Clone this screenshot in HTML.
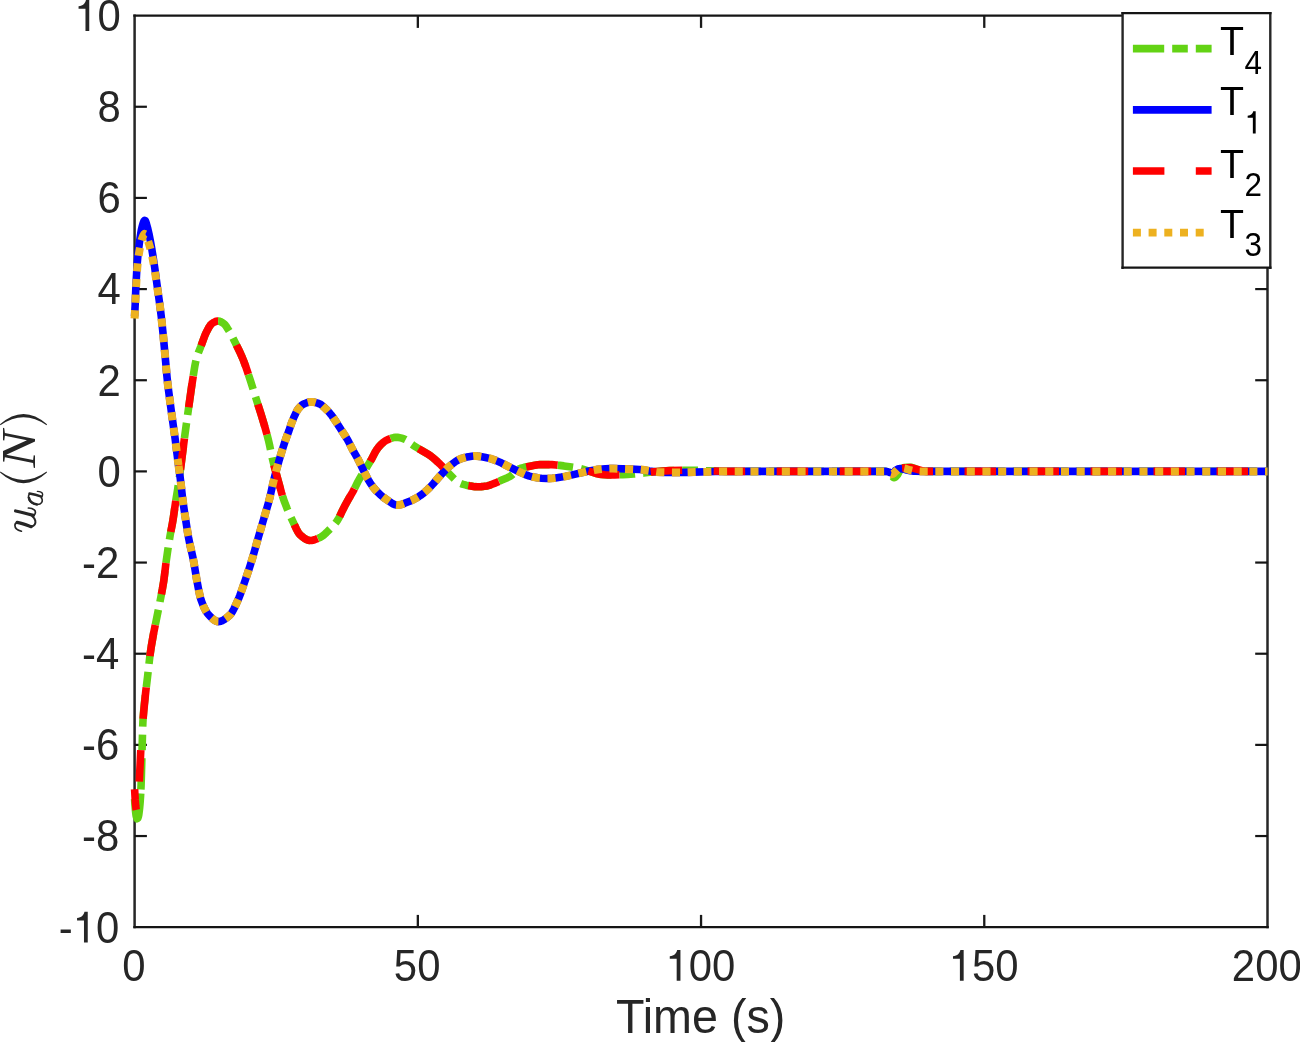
<!DOCTYPE html>
<html><head><meta charset="utf-8"><style>html,body{margin:0;padding:0;background:#fff;}svg{display:block;}text{-webkit-font-smoothing:antialiased;}.gs{filter:grayscale(1);}</style></head><body>
<svg width="1300" height="1042" viewBox="0 0 1300 1042">
<rect x="0" y="0" width="1300" height="1042" fill="#fff"/>
<g shape-rendering="auto">
<line x1="134.6" y1="14.5" x2="134.6" y2="928.3000000000001" stroke="#262626" stroke-width="2.5"/>
<line x1="1267.5" y1="14.5" x2="1267.5" y2="928.3000000000001" stroke="#262626" stroke-width="2.5"/>
<line x1="133.35" y1="15.6" x2="1268.75" y2="15.6" stroke="#151515" stroke-width="2.2"/>
<line x1="133.35" y1="927.2" x2="1268.75" y2="927.2" stroke="#151515" stroke-width="2.2"/>
<line x1="417.83" y1="927.2" x2="417.83" y2="914.9000000000001" stroke="#1a1a1a" stroke-width="2.3"/>
<line x1="417.83" y1="15.6" x2="417.83" y2="27.9" stroke="#1a1a1a" stroke-width="2.3"/>
<line x1="701.05" y1="927.2" x2="701.05" y2="914.9000000000001" stroke="#1a1a1a" stroke-width="2.3"/>
<line x1="701.05" y1="15.6" x2="701.05" y2="27.9" stroke="#1a1a1a" stroke-width="2.3"/>
<line x1="984.27" y1="927.2" x2="984.27" y2="914.9000000000001" stroke="#1a1a1a" stroke-width="2.3"/>
<line x1="984.27" y1="15.6" x2="984.27" y2="27.9" stroke="#1a1a1a" stroke-width="2.3"/>
<line x1="134.6" y1="836.04" x2="146.9" y2="836.04" stroke="#151515" stroke-width="2.2"/>
<line x1="1267.5" y1="836.04" x2="1255.2" y2="836.04" stroke="#151515" stroke-width="2.2"/>
<line x1="134.6" y1="744.88" x2="146.9" y2="744.88" stroke="#151515" stroke-width="2.2"/>
<line x1="1267.5" y1="744.88" x2="1255.2" y2="744.88" stroke="#151515" stroke-width="2.2"/>
<line x1="134.6" y1="653.72" x2="146.9" y2="653.72" stroke="#151515" stroke-width="2.2"/>
<line x1="1267.5" y1="653.72" x2="1255.2" y2="653.72" stroke="#151515" stroke-width="2.2"/>
<line x1="134.6" y1="562.56" x2="146.9" y2="562.56" stroke="#151515" stroke-width="2.2"/>
<line x1="1267.5" y1="562.56" x2="1255.2" y2="562.56" stroke="#151515" stroke-width="2.2"/>
<line x1="134.6" y1="471.40" x2="146.9" y2="471.40" stroke="#151515" stroke-width="2.2"/>
<line x1="1267.5" y1="471.40" x2="1255.2" y2="471.40" stroke="#151515" stroke-width="2.2"/>
<line x1="134.6" y1="380.24" x2="146.9" y2="380.24" stroke="#151515" stroke-width="2.2"/>
<line x1="1267.5" y1="380.24" x2="1255.2" y2="380.24" stroke="#151515" stroke-width="2.2"/>
<line x1="134.6" y1="289.08" x2="146.9" y2="289.08" stroke="#151515" stroke-width="2.2"/>
<line x1="1267.5" y1="289.08" x2="1255.2" y2="289.08" stroke="#151515" stroke-width="2.2"/>
<line x1="134.6" y1="197.92" x2="146.9" y2="197.92" stroke="#151515" stroke-width="2.2"/>
<line x1="1267.5" y1="197.92" x2="1255.2" y2="197.92" stroke="#151515" stroke-width="2.2"/>
<line x1="134.6" y1="106.76" x2="146.9" y2="106.76" stroke="#151515" stroke-width="2.2"/>
<line x1="1267.5" y1="106.76" x2="1255.2" y2="106.76" stroke="#151515" stroke-width="2.2"/>
</g>
<path d="M134.60,799.00 L134.66,799.99 L134.72,800.98 L134.78,801.96 L134.84,802.95 L134.91,803.93 L134.98,804.91 L135.05,805.88 L135.12,806.85 L135.20,807.82 L135.28,808.78 L135.37,809.72 L135.47,810.68 L135.58,811.65 L135.69,812.62 L135.80,813.58 L135.93,814.52 L136.07,815.43 L136.24,816.28 L136.48,817.11 L136.76,817.98 L137.11,818.68 L137.75,818.31 L138.19,817.15 L138.51,816.11 L138.74,814.92 L138.90,813.85 L139.04,812.81 L139.17,811.78 L139.30,810.77 L139.41,809.76 L139.53,808.76 L139.64,807.73 L139.74,806.70 L139.84,805.67 L139.93,804.65 L140.02,803.63 L140.10,802.61 L140.18,801.59 L140.25,800.58 L140.33,799.56 L140.40,798.55 L140.47,797.53 L140.53,796.51 L140.59,795.48 L140.65,794.45 L140.71,793.43" stroke="#63D314" fill="none" stroke-width="7.6" stroke-linejoin="round" stroke-linecap="butt"/>
<path d="M140.71,793.43 L141.08,785.30 L141.35,777.15 L142.62,729.21 L142.88,722.38 L143.15,717.58 L143.67,710.72 L144.33,703.88 L147.51,677.10 L149.86,656.27 L151.28,646.50 L153.33,634.74 L159.84,602.42 L162.30,589.62 L163.65,581.65 L164.36,576.59 L165.99,562.71 L167.81,549.91 L170.17,535.16 L172.40,523.41 L173.10,519.41 L175.81,500.57 L177.73,488.74 L178.77,481.78 L180.29,470.84 L184.19,440.08 L187.00,419.29 L191.59,386.64 L194.04,370.88 L194.86,365.99 L195.60,362.15 L196.27,359.34 L197.08,356.52 L198.34,352.81 L200.90,346.32 L203.98,337.84 L205.44,334.19 L207.18,330.65 L208.56,328.03 L209.55,326.35 L210.66,324.78 L211.29,324.08 L212.01,323.50 L212.84,322.96 L214.55,321.97 L215.45,321.56 L216.37,321.24 L217.33,321.04 L218.33,321.01 L219.32,321.19 L220.29,321.53 L221.21,321.98 L222.93,323.05 L224.57,324.29 L225.29,325.09 L225.91,325.92 L227.03,327.64 L229.66,331.92 L232.09,336.34 L238.76,349.81 L240.47,353.45 L242.11,357.13 L243.64,360.86 L245.40,365.59 L247.34,371.30 L250.47,380.81 L261.03,414.20 L264.78,426.67 L266.70,433.44 L268.46,440.27 L269.58,445.21 L272.22,457.92 L273.37,462.73 L274.60,467.55 L281.48,492.58 L282.91,497.32 L284.51,501.99 L287.02,508.47 L289.79,514.86 L296.11,528.43 L297.46,531.05 L298.45,532.72 L299.58,534.27 L300.23,534.94 L302.50,536.87 L304.07,538.07 L305.72,539.14 L306.59,539.60 L307.49,539.98 L308.43,540.28 L309.39,540.46 L310.39,540.50 L311.39,540.43 L312.38,540.28 L314.33,539.79 L316.23,539.12 L318.09,538.35 L319.92,537.54 L320.83,537.08 L321.71,536.56 L322.55,535.98 L324.13,534.70 L326.35,532.65 L332.01,526.97 L334.72,523.98 L335.99,522.40 L337.19,520.76 L337.76,519.91 L338.80,518.11 L342.27,510.86 L345.01,505.55 L348.33,499.42 L352.38,492.54 L353.86,489.89 L357.85,481.80 L359.25,479.20 L360.78,476.65 L364.54,470.75 L370.31,461.36 L371.81,458.72 L375.01,452.50 L375.98,450.80 L377.07,449.18 L378.85,446.83 L380.83,444.66 L383.03,442.66 L384.57,441.43 L385.38,440.88 L386.22,440.38 L387.10,439.96 L390.79,438.44 L392.68,437.84 L393.65,437.60 L395.62,437.32 L397.61,437.36 L398.61,437.49 L400.58,437.89 L402.51,438.45 L404.41,439.09 L405.35,439.44 L406.27,439.93 L407.92,441.13 L410.97,443.73 L413.39,445.43 L421.05,450.13 L427.12,453.62 L428.82,454.69 L430.48,455.84 L432.08,457.06 L434.41,458.98 L436.66,460.98 L439.59,463.72 L442.43,466.57 L448.50,473.21 L454.15,478.86 L456.32,480.89 L457.86,482.10 L458.68,482.64 L459.54,483.10 L461.37,483.82 L463.27,484.43 L466.16,485.18 L469.10,485.75 L473.05,486.37 L475.03,486.63 L477.02,486.78 L479.02,486.78 L481.02,486.67 L484.01,486.36 L486.98,485.93 L487.96,485.70 L489.89,485.12 L495.51,483.00 L501.87,480.06 L507.39,477.71 L510.09,476.35 L510.95,475.79 L512.54,474.50 L516.19,471.07 L517.70,469.81 L518.50,469.26 L519.34,468.78 L520.24,468.42 L522.14,467.83 L524.08,467.34 L530.94,466.01 L534.86,465.19 L537.82,464.73 L539.81,464.60 L549.81,464.60 L552.81,464.69 L559.77,465.38 L563.74,465.89 L569.67,466.85 L576.59,467.88 L580.53,468.62 L583.43,469.40 L595.81,473.37 L598.71,474.10 L599.69,474.26 L603.66,474.68 L607.65,474.95 L610.65,475.00 L615.65,474.92 L622.65,474.71 L627.64,474.45 L633.63,474.03 L640.60,473.44 L643.59,473.10 L653.49,471.75 L661.46,471.07 L669.45,470.62 L684.44,470.24 L690.44,470.20 L694.44,470.27 L709.43,470.88 L721.42,471.26 L728.42,471.39 L885.42,471.40 L886.42,471.43 L887.41,471.66 L888.36,472.07 L890.12,473.08 L890.92,473.98 L892.54,476.55 L893.10,477.27 L893.78,477.77 L894.74,477.60 L895.62,476.93 L897.04,475.46 L897.71,474.49 L899.12,471.79 L899.61,471.00 L900.87,469.62 L902.33,468.35 L903.14,467.86 L904.05,467.59 L907.03,467.30 L909.03,467.21 L910.03,467.20 L911.03,467.29 L912.01,467.51 L912.98,467.81 L915.78,468.90 L921.47,470.78 L923.39,471.25 L924.38,471.38 L925.37,471.40 L1267.50,471.40" stroke="#63D314" stroke-dasharray="31.4 8 15.6 8" stroke-dashoffset="59.08" fill="none" stroke-width="7.6" stroke-linejoin="round" stroke-linecap="butt"/>
<path d="M134.60,316.30 L135.20,304.18 L135.75,290.15 L136.13,282.25 L136.71,271.35 L137.23,263.47 L137.80,256.62 L138.52,249.76 L139.26,243.88 L140.51,235.02 L141.31,230.20 L141.71,228.36 L142.21,226.48 L143.01,223.65 L143.63,221.87 L144.01,221.06 L144.49,220.42 L145.28,220.67 L145.84,221.87 L146.48,223.91 L147.81,228.75 L148.96,233.74 L150.51,241.64 L151.75,248.58 L153.05,256.51 L154.69,267.45 L157.50,288.27 L160.00,306.11 L161.33,317.12 L162.91,332.09 L164.42,348.06 L166.99,376.93 L168.07,386.75 L171.20,410.49 L175.20,439.22 L177.81,460.07 L180.10,476.91 L180.85,482.93 L182.41,496.83 L183.29,503.71 L184.42,511.58 L186.08,522.44 L187.48,531.30 L188.48,537.17 L189.81,543.96 L192.27,554.65 L193.12,558.61 L194.05,563.60 L196.33,577.41 L198.34,588.18 L199.73,594.96 L200.43,597.80 L200.97,599.63 L202.68,604.23 L204.25,607.83 L205.12,609.59 L206.07,611.29 L207.69,613.71 L208.30,614.46 L210.35,616.59 L211.77,617.97 L213.26,619.27 L214.85,620.41 L215.70,620.89 L216.59,621.27 L217.53,621.52 L218.52,621.60 L219.52,621.51 L220.51,621.30 L221.47,620.98 L223.31,620.11 L225.02,619.02 L226.64,617.80 L228.95,615.85 L230.44,614.46 L231.11,613.64 L232.27,611.92 L233.75,609.23 L235.50,605.58 L238.76,598.24 L239.89,595.41 L241.29,591.63 L246.51,576.49 L249.38,567.94 L252.11,559.33 L253.80,553.54 L258.69,536.22 L263.71,518.94 L267.14,507.44 L268.51,502.60 L270.01,496.72 L272.85,484.02 L274.00,479.20 L276.51,469.56 L278.93,460.92 L281.50,452.32 L284.22,443.78 L286.16,438.15 L288.97,430.65 L291.53,423.08 L293.74,417.58 L295.84,413.09 L297.20,410.49 L297.70,409.68 L298.89,408.17 L300.89,406.01 L302.38,404.77 L303.20,404.25 L304.99,403.45 L306.86,402.76 L308.77,402.21 L309.74,402.03 L310.73,401.92 L311.73,401.90 L312.73,401.97 L314.71,402.31 L317.60,403.16 L319.48,403.85 L320.41,404.29 L321.29,404.85 L322.10,405.47 L323.62,406.82 L327.24,410.30 L329.95,413.30 L331.23,414.86 L332.44,416.49 L335.85,421.46 L341.78,430.74 L345.63,436.59 L347.21,439.17 L348.70,441.83 L352.73,449.87 L357.15,457.69 L358.58,460.35 L365.62,474.75 L367.42,478.28 L368.39,479.98 L369.96,482.52 L372.74,486.61 L374.57,488.94 L377.25,491.84 L380.13,494.58 L383.17,497.14 L385.56,498.91 L392.19,503.36 L393.92,504.30 L394.83,504.67 L395.77,504.95 L396.74,505.09 L397.74,505.08 L398.74,504.99 L399.73,504.84 L401.69,504.36 L404.53,503.36 L411.01,500.69 L413.74,499.42 L416.40,498.00 L418.98,496.45 L421.49,494.76 L423.08,493.53 L425.38,491.56 L427.60,489.52 L430.48,486.73 L433.21,483.76 L439.06,476.93 L444.48,471.07 L447.27,468.23 L449.47,466.24 L452.58,463.74 L454.96,461.94 L456.60,460.84 L458.31,459.85 L459.20,459.43 L461.06,458.72 L463.91,457.81 L466.81,457.09 L468.76,456.70 L471.73,456.24 L473.71,456.02 L475.71,456.02 L477.71,456.15 L479.69,456.38 L481.67,456.69 L485.60,457.48 L490.47,458.62 L493.35,459.52 L496.15,460.63 L501.65,463.05 L509.67,467.14 L518.66,471.50 L525.03,474.39 L526.87,475.16 L528.74,475.83 L530.65,476.37 L533.57,477.07 L537.49,477.81 L539.47,478.05 L541.46,478.21 L546.45,478.48 L549.45,478.47 L552.45,478.26 L555.43,477.92 L561.38,477.10 L565.31,476.38 L571.19,475.15 L587.74,471.26 L593.63,470.13 L596.58,469.63 L599.55,469.25 L605.53,468.69 L609.52,468.50 L613.52,468.56 L631.51,469.12 L639.50,469.47 L642.49,469.76 L649.40,470.92 L655.33,471.78 L658.31,472.11 L666.31,472.36 L677.30,472.49 L686.30,472.42 L715.29,471.57 L725.29,471.47 L748.29,471.40 L885.29,471.40 L886.29,471.41 L887.29,471.61 L889.18,472.28 L890.13,472.53 L892.09,472.93 L893.08,473.00 L894.07,472.26 L895.30,470.64 L895.94,470.04 L897.68,469.17 L898.60,468.82 L899.56,468.62 L900.55,468.62 L901.55,468.74 L902.54,468.95 L905.44,469.69 L910.33,470.72 L912.30,471.05 L913.29,471.16 L915.29,471.24 L923.28,471.39 L1267.50,471.40" stroke="#0000FF" fill="none" stroke-width="7.6" stroke-linejoin="round" stroke-linecap="butt"/>
<path d="M134.60,789.30 L135.23,800.09 L135.73,805.95 L136.05,808.72 L136.45,810.43 L136.74,811.22 L137.18,811.26 L137.55,809.63 L137.72,808.58 L137.86,807.48 L138.04,805.21 L138.60,795.11 L140.85,749.19 L141.48,739.31 L142.22,729.41 L143.75,711.54 L145.21,696.68 L145.96,689.77 L147.53,676.87 L149.89,656.05 L151.32,646.27 L153.37,634.51 L159.88,602.18 L162.34,589.39 L163.69,581.42 L164.38,576.36 L166.02,562.49 L167.85,549.68 L170.21,534.94 L172.44,523.18 L173.13,519.17 L175.85,500.34 L177.77,488.51 L178.81,481.54 L180.45,469.61 L184.48,437.87 L187.58,415.10 L191.77,385.43 L194.73,366.74 L195.86,360.99 L196.59,358.17 L197.45,355.36 L198.77,351.67 L201.35,345.14 L204.41,336.69 L205.14,334.88 L205.94,333.11 L208.67,327.82 L209.67,326.15 L210.81,324.61 L211.46,323.93 L212.20,323.37 L213.88,322.33 L215.65,321.48 L216.59,321.18 L217.56,321.02 L218.55,321.03 L219.55,321.25 L220.50,321.62 L221.41,322.09 L223.94,323.76 L224.76,324.47 L226.06,326.13 L229.27,331.25 L230.78,333.89 L232.20,336.56 L238.86,350.03 L240.57,353.67 L242.20,357.35 L243.73,361.09 L245.48,365.82 L247.10,370.58 L250.54,381.04 L261.10,414.43 L264.85,426.91 L266.76,433.67 L268.52,440.50 L269.62,445.45 L272.27,458.15 L274.66,467.78 L281.54,492.81 L282.98,497.55 L284.59,502.22 L287.11,508.69 L289.89,515.07 L296.21,528.64 L297.57,531.26 L298.58,532.92 L299.73,534.44 L300.40,535.09 L302.68,537.01 L304.26,538.20 L305.92,539.25 L306.80,539.69 L307.71,540.06 L308.65,540.33 L309.63,540.48 L310.62,540.49 L311.62,540.40 L312.62,540.23 L314.56,539.71 L316.45,539.03 L319.22,537.85 L321.04,536.97 L321.91,536.42 L322.74,535.83 L324.31,534.55 L326.52,532.48 L332.18,526.80 L334.88,523.80 L336.74,521.39 L337.89,519.71 L338.42,518.81 L339.82,516.08 L342.37,510.66 L345.12,505.35 L348.44,499.22 L352.49,492.34 L353.97,489.69 L357.50,482.48 L358.88,479.87 L360.90,476.46 L364.65,470.56 L369.91,462.03 L371.91,458.52 L375.11,452.30 L376.10,450.62 L377.20,449.00 L378.99,446.66 L380.30,445.20 L380.99,444.51 L383.20,442.52 L384.75,441.31 L385.57,440.76 L386.42,440.28 L387.31,439.87 L391.00,438.37 L392.90,437.78 L393.86,437.55 L395.84,437.31 L397.84,437.39 L399.82,437.71 L402.72,438.52 L405.56,439.54 L406.46,440.05 L407.30,440.64 L411.14,443.87 L412.75,445.00 L415.27,446.61 L420.39,449.73 L427.31,453.74 L429.01,454.82 L430.66,455.98 L432.26,457.20 L434.58,459.13 L439.76,463.87 L442.59,466.74 L448.66,473.37 L454.31,479.02 L456.49,481.03 L458.04,482.23 L458.87,482.75 L459.74,483.19 L462.53,484.21 L464.44,484.76 L466.38,485.23 L469.32,485.79 L473.28,486.41 L475.26,486.65 L477.25,486.79 L479.25,486.78 L481.25,486.65 L484.23,486.33 L487.20,485.89 L488.18,485.65 L490.10,485.05 L495.72,482.91 L502.08,479.97 L507.60,477.62 L510.29,476.23 L511.94,475.01 L516.36,470.93 L517.88,469.68 L518.68,469.14 L519.54,468.69 L520.45,468.34 L522.35,467.77 L524.29,467.29 L530.18,466.17 L535.08,465.15 L538.04,464.70 L540.03,464.60 L550.03,464.60 L552.03,464.65 L556.02,464.97 L562.97,465.78 L576.81,467.91 L580.74,468.67 L583.64,469.47 L596.02,473.44 L598.92,474.14 L600.90,474.40 L604.88,474.78 L607.87,474.96 L609.87,475.00 L614.87,474.94 L621.87,474.74 L626.86,474.50 L632.85,474.09 L641.82,473.32 L653.71,471.72 L663.68,470.92 L669.67,470.61 L684.66,470.24 L690.66,470.20 L694.66,470.27 L708.65,470.86 L721.64,471.27 L728.64,471.40 L890.64,471.38 L891.64,471.31 L893.62,471.00 L896.56,470.34 L897.51,469.95 L900.17,468.55 L901.08,468.19 L902.03,468.00 L906.02,467.71 L910.01,467.60 L911.01,467.66 L912.99,468.03 L923.55,471.10 L924.52,471.28 L925.51,471.39 L926.51,471.40 L1267.50,471.40" stroke="#FF0000" stroke-dasharray="31.5 31.5" stroke-dashoffset="10.74" fill="none" stroke-width="7.6" stroke-linejoin="round" stroke-linecap="butt"/>
<path d="M134.60,318.42 L135.18,307.30 L135.75,293.28 L136.10,286.38 L136.66,276.47 L137.20,268.62 L137.75,262.80 L138.46,256.96 L139.20,252.10 L140.42,245.28 L141.23,241.48 L141.74,239.69 L142.06,238.79 L142.74,236.94 L143.50,235.20 L143.96,234.43 L144.54,233.87 L145.43,234.29 L146.00,235.38 L148.10,241.10 L149.05,244.01 L150.43,248.89 L151.63,253.82 L152.89,259.74 L154.01,265.71 L155.43,274.68 L160.01,306.40 L161.35,317.40 L162.94,332.38 L164.44,348.35 L166.92,376.23 L167.75,384.08 L168.61,390.97 L170.97,408.79 L175.23,439.51 L177.59,458.38 L178.51,465.28" stroke="#EDB120" stroke-dasharray="8.1 7.6" stroke-dashoffset="0" fill="none" stroke-width="8.0" stroke-linejoin="round" stroke-linecap="butt"/>
<path d="M178.51,465.28 L180.52,480.20 L182.44,497.11 L183.33,503.99 L184.90,514.82 L187.69,532.56 L188.71,538.43 L189.46,542.30 L190.29,546.16 L192.34,554.93 L193.38,559.89 L194.27,564.88 L196.55,578.66 L198.97,591.38 L200.26,597.13 L200.77,598.99 L201.72,601.73 L202.79,604.49 L203.96,607.20 L204.81,608.97 L205.73,610.70 L206.74,612.36 L207.87,613.93 L209.16,615.37 L211.27,617.49 L212.72,618.82 L214.27,620.03 L215.09,620.56 L215.95,621.01 L216.86,621.36 L217.82,621.56 L218.81,621.59 L219.81,621.46 L220.79,621.22 L221.75,620.87 L222.67,620.45 L224.42,619.42 L226.07,618.25 L227.65,616.98 L229.91,614.99 L230.65,614.22 L231.30,613.39 L232.43,611.65 L233.89,608.95 L235.62,605.30 L238.88,597.95 L240.00,595.13 L241.39,591.35 L246.61,576.20 L249.48,567.65 L252.19,559.03 L258.77,535.93 L268.33,503.28 L270.08,496.42 L272.69,484.69 L273.83,479.87 L276.33,470.22 L278.74,461.59 L281.59,452.03 L284.32,443.49 L285.93,438.79 L289.08,430.36 L291.30,423.72 L293.47,418.21 L295.97,412.82 L297.35,410.24 L297.87,409.44 L299.08,407.94 L301.11,405.81 L302.62,404.60 L303.45,404.11 L305.26,403.34 L307.13,402.66 L309.05,402.15 L310.03,401.99 L311.02,401.91 L312.02,401.92 L313.02,402.00 L315.00,402.38 L317.88,403.26 L319.76,403.96 L320.68,404.44 L322.33,405.67 L326.01,409.09 L328.14,411.25 L330.14,413.52 L331.41,415.10 L332.61,416.73 L336.01,421.71 L341.39,430.15 L345.24,435.99 L347.36,439.42 L348.83,442.09 L352.87,450.12 L357.29,457.94 L358.72,460.61 L365.75,475.01 L367.56,478.53 L370.11,482.76 L371.76,485.23 L372.91,486.84 L374.12,488.40 L375.40,489.89 L378.16,492.74 L381.09,495.43 L384.18,497.91 L390.76,502.44 L393.29,503.99 L394.17,504.42 L395.09,504.76 L396.04,505.00 L397.03,505.10 L399.02,504.96 L400.01,504.78 L401.96,504.28 L404.80,503.26 L411.27,500.58 L414.00,499.30 L416.65,497.86 L419.23,496.30 L421.72,494.59 L423.31,493.34 L425.59,491.37 L427.80,489.32 L430.68,486.52 L433.40,483.54 L439.25,476.71 L444.68,470.86 L447.48,468.03 L449.69,466.05 L452.80,463.56 L455.19,461.78 L456.84,460.69 L458.57,459.72 L459.46,459.31 L461.33,458.62 L464.18,457.74 L467.09,457.02 L469.05,456.65 L472.01,456.20 L474.00,456.01 L476.00,456.03 L477.99,456.18 L481.96,456.74 L484.90,457.33 L489.78,458.45 L491.72,458.97 L493.62,459.62 L496.41,460.74 L501.91,463.17 L509.03,466.82 L518.01,471.20 L525.29,474.51 L527.13,475.26 L529.01,475.92 L533.85,477.14 L537.78,477.86 L541.75,478.23 L546.75,478.49 L549.74,478.46 L552.74,478.24 L556.71,477.75 L562.65,476.89 L565.60,476.32 L572.45,474.87 L588.02,471.20 L595.88,469.74 L598.85,469.32 L603.82,468.83 L606.81,468.60 L609.81,468.50 L612.81,468.54 L631.80,469.13 L639.79,469.49 L642.78,469.80 L648.70,470.81 L656.61,471.94 L659.60,472.19 L666.60,472.36 L675.59,472.48 L683.59,472.47 L714.58,471.58 L730.58,471.44 L885.58,471.40 L886.58,471.49 L887.54,471.95 L890.99,473.93 L891.89,474.20 L892.89,473.92 L893.75,473.24 L895.16,471.78 L896.62,470.44 L898.02,468.98 L898.72,468.35 L899.51,467.89 L900.46,467.81 L902.45,468.06 L905.39,468.68 L906.36,468.94 L910.17,470.18 L912.10,470.61 L917.05,471.26 L920.05,471.40 L1267.50,471.40" stroke="#EDB120" stroke-dasharray="8.1 7.6" stroke-dashoffset="15.20" fill="none" stroke-width="8.0" stroke-linejoin="round" stroke-linecap="butt"/>
<g class="gs" transform="translate(119.30,942.50) scale(0.935,1)" font-family="Liberation Sans, sans-serif" font-size="44.8" fill="#262626"><text x="-64.75" y="0">-</text><path transform="translate(-49.83,0) scale(0.04480,-0.04480)" d="M269,0 L359,0 L359,688 L281,688 C263,614 214,561 104,549 L104,493 L269,493 Z"/><text x="-24.92" y="0">0</text></g>
<g class="gs" transform="translate(119.30,851.34) scale(0.935,1)" font-family="Liberation Sans, sans-serif" font-size="44.8" fill="#262626"><text x="-39.83" y="0">-8</text></g>
<g class="gs" transform="translate(119.30,760.18) scale(0.935,1)" font-family="Liberation Sans, sans-serif" font-size="44.8" fill="#262626"><text x="-39.83" y="0">-6</text></g>
<g class="gs" transform="translate(119.30,669.02) scale(0.935,1)" font-family="Liberation Sans, sans-serif" font-size="44.8" fill="#262626"><text x="-39.83" y="0">-4</text></g>
<g class="gs" transform="translate(119.30,577.86) scale(0.935,1)" font-family="Liberation Sans, sans-serif" font-size="44.8" fill="#262626"><text x="-39.83" y="0">-2</text></g>
<g class="gs" transform="translate(120.80,486.70) scale(0.935,1)" font-family="Liberation Sans, sans-serif" font-size="44.8" fill="#262626"><text x="-24.92" y="0">0</text></g>
<g class="gs" transform="translate(120.80,395.54) scale(0.935,1)" font-family="Liberation Sans, sans-serif" font-size="44.8" fill="#262626"><text x="-24.92" y="0">2</text></g>
<g class="gs" transform="translate(120.80,304.38) scale(0.935,1)" font-family="Liberation Sans, sans-serif" font-size="44.8" fill="#262626"><text x="-24.92" y="0">4</text></g>
<g class="gs" transform="translate(120.80,213.22) scale(0.935,1)" font-family="Liberation Sans, sans-serif" font-size="44.8" fill="#262626"><text x="-24.92" y="0">6</text></g>
<g class="gs" transform="translate(120.80,122.06) scale(0.935,1)" font-family="Liberation Sans, sans-serif" font-size="44.8" fill="#262626"><text x="-24.92" y="0">8</text></g>
<g class="gs" transform="translate(120.80,30.90) scale(0.935,1)" font-family="Liberation Sans, sans-serif" font-size="44.8" fill="#262626"><path transform="translate(-49.83,0) scale(0.04480,-0.04480)" d="M269,0 L359,0 L359,688 L281,688 C263,614 214,561 104,549 L104,493 L269,493 Z"/><text x="-24.92" y="0">0</text></g>
<g class="gs" transform="translate(133.90,980.80) scale(0.935,1)" font-family="Liberation Sans, sans-serif" font-size="44.8" fill="#262626"><text x="-12.46" y="0">0</text></g>
<g class="gs" transform="translate(417.13,980.80) scale(0.935,1)" font-family="Liberation Sans, sans-serif" font-size="44.8" fill="#262626"><text x="-24.92" y="0">50</text></g>
<g class="gs" transform="translate(700.35,980.80) scale(0.935,1)" font-family="Liberation Sans, sans-serif" font-size="44.8" fill="#262626"><path transform="translate(-37.37,0) scale(0.04480,-0.04480)" d="M269,0 L359,0 L359,688 L281,688 C263,614 214,561 104,549 L104,493 L269,493 Z"/><text x="-12.46" y="0">00</text></g>
<g class="gs" transform="translate(983.57,980.80) scale(0.935,1)" font-family="Liberation Sans, sans-serif" font-size="44.8" fill="#262626"><path transform="translate(-37.37,0) scale(0.04480,-0.04480)" d="M269,0 L359,0 L359,688 L281,688 C263,614 214,561 104,549 L104,493 L269,493 Z"/><text x="-12.46" y="0">50</text></g>
<g class="gs" transform="translate(1266.80,980.80) scale(0.935,1)" font-family="Liberation Sans, sans-serif" font-size="44.8" fill="#262626"><text x="-37.37" y="0">200</text></g>
<g class="gs" transform="translate(701.50,1032.80) scale(0.953,1)" font-family="Liberation Sans, sans-serif" font-size="49" fill="#262626"><text x="-89.82" y="0">Time (s)</text></g>
<path d="M21.4,531.2 C17.5,530.2 14.9,527.8 14.9,525.2 C14.9,523.6 16.3,522.6 18.3,522.6" fill="none" stroke="#262626" stroke-width="1.7" stroke-linecap="round" stroke-linejoin="round"/>
<path d="M17.2,522.4 C22,523.4 27,525.2 31.2,526.6" fill="none" stroke="#262626" stroke-width="3.3" stroke-linecap="round" stroke-linejoin="round"/>
<path d="M31.2,526.6 C34.6,526.2 35.9,523.4 35.3,520.8 C34.8,518.6 33.6,517.2 32.2,516.2" fill="none" stroke="#262626" stroke-width="2.0" stroke-linecap="round" stroke-linejoin="round"/>
<path d="M15.6,511.0 C21,512.0 27,513.6 33.4,515.4" fill="none" stroke="#262626" stroke-width="3.3" stroke-linecap="round" stroke-linejoin="round"/>
<path d="M33.4,515.4 C35.7,514.6 36.0,511.4 34.3,509.9 C32.9,508.6 30.8,508.0 28.4,508.0" fill="none" stroke="#262626" stroke-width="1.7" stroke-linecap="round" stroke-linejoin="round"/>
<path d="M29.5,493.6 C33.5,494.4 37.5,495.4 41.5,496.6" fill="none" stroke="#262626" stroke-width="2.5" stroke-linecap="round" stroke-linejoin="round"/>
<path d="M41.5,496.6 C43.2,495.5 43.0,493.0 41.0,492.1 C40.0,491.6 38.8,491.4 37.4,491.4" fill="none" stroke="#262626" stroke-width="1.4" stroke-linecap="round" stroke-linejoin="round"/>
<path d="M29.6,493.9 C28.0,495.6 28.0,498.8 30.2,501.4 C32.5,504.0 37.0,505.1 40.0,504.0 C42.6,503.0 43.0,499.6 41.2,497.6" fill="none" stroke="#262626" stroke-width="1.6" stroke-linecap="round" stroke-linejoin="round"/>
<path d="M28.9,497.8 C29.6,501.2 32.6,503.7 37.0,504.4" fill="none" stroke="#262626" stroke-width="2.5" stroke-linecap="round" stroke-linejoin="round"/>
<text class="gs" transform="translate(34.90,467.61) rotate(-90) scale(1.146,1)" font-family="Liberation Serif, serif" font-style="italic" font-size="48.5" fill="#262626">N</text>
<path d="M0.0,424.3 Q23.5,403.7 47.0,424.3 L46.6,425.3 Q23.5,409.3 0.4,425.3 Z" fill="#262626"/>
<path d="M0.0,472.6 Q23.5,493.79999999999995 47.0,472.6 L46.6,471.6 Q23.5,488.19999999999993 0.4,471.6 Z" fill="#262626"/>
<rect x="1122.6" y="13.2" width="147.7" height="254.5" fill="#fff" stroke="none"/>
<line x1="1122.6" y1="12.0" x2="1122.6" y2="268.9" stroke="#262626" stroke-width="2.4"/>
<line x1="1270.3" y1="12.0" x2="1270.3" y2="268.9" stroke="#262626" stroke-width="2.4"/>
<line x1="1121.4" y1="13.2" x2="1271.5" y2="13.2" stroke="#151515" stroke-width="2.2"/>
<line x1="1121.4" y1="267.7" x2="1271.5" y2="267.7" stroke="#151515" stroke-width="2.2"/>
<line x1="1132.9" y1="48.6" x2="1211.6" y2="48.6" stroke="#63D314" stroke-width="7.6" stroke-dasharray="31.3 8 15.6 8"/>
<g class="gs" transform="translate(1220.00,55.10) scale(0.98,1)" font-family="Liberation Sans, sans-serif" font-size="40.1" fill="#000"><text x="0.00" y="0">T</text></g>
<g class="gs" transform="translate(1244.40,73.70) scale(0.97,1)" font-family="Liberation Sans, sans-serif" font-size="32.4" fill="#000"><text x="0.00" y="0">4</text></g>
<line x1="1132.9" y1="109.9" x2="1211.6" y2="109.9" stroke="#0000FF" stroke-width="7.6"/>
<g class="gs" transform="translate(1220.00,115.00) scale(0.98,1)" font-family="Liberation Sans, sans-serif" font-size="40.1" fill="#000"><text x="0.00" y="0">T</text></g>
<g class="gs" transform="translate(1244.40,133.60) scale(0.97,1)" font-family="Liberation Sans, sans-serif" font-size="32.4" fill="#000"><path transform="translate(0.00,0) scale(0.03240,-0.03240)" d="M269,0 L359,0 L359,688 L281,688 C263,614 214,561 104,549 L104,493 L269,493 Z"/></g>
<line x1="1132.9" y1="171.0" x2="1211.6" y2="171.0" stroke="#FF0000" stroke-width="7.6" stroke-dasharray="31.5 31.4"/>
<g class="gs" transform="translate(1220.00,177.80) scale(0.98,1)" font-family="Liberation Sans, sans-serif" font-size="40.1" fill="#000"><text x="0.00" y="0">T</text></g>
<g class="gs" transform="translate(1244.40,196.40) scale(0.97,1)" font-family="Liberation Sans, sans-serif" font-size="32.4" fill="#000"><text x="0.00" y="0">2</text></g>
<line x1="1132.9" y1="232.6" x2="1211.1" y2="232.6" stroke="#EDB120" stroke-width="7.6" stroke-dasharray="8 7.7"/>
<g class="gs" transform="translate(1220.00,237.70) scale(0.98,1)" font-family="Liberation Sans, sans-serif" font-size="40.1" fill="#000"><text x="0.00" y="0">T</text></g>
<g class="gs" transform="translate(1244.40,256.30) scale(0.97,1)" font-family="Liberation Sans, sans-serif" font-size="32.4" fill="#000"><text x="0.00" y="0">3</text></g>
</svg></body></html>
